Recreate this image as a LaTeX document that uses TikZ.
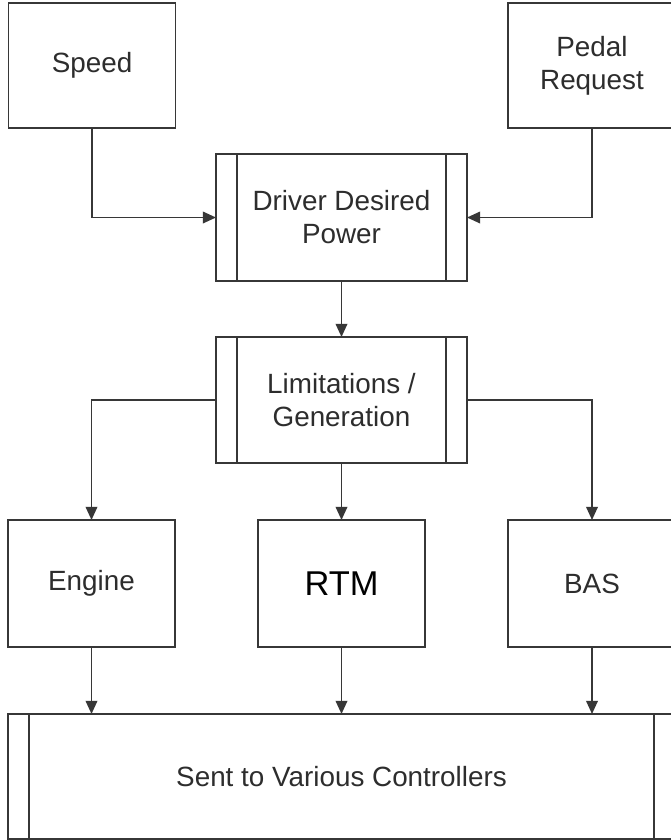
\documentclass[tikz,border=0pt]{standalone}
\usepackage{fontspec}
\setmainfont{Liberation Sans}
\usepackage{tikz}
\usetikzlibrary{arrows.meta,positioning}
\definecolor{lineg}{RGB}{55,55,55}
\definecolor{textg}{RGB}{45,45,45}
\newcommand{\barw}{0.52cm}

\begin{document}
\begin{tikzpicture}[>={Triangle[length=3.3mm,width=2.9mm]},
  box/.style={draw=lineg,line width=1.35pt,inner sep=0pt,outer sep=0pt,
    align=center,text=textg,font=\fontsize{19.8}{23.5}\selectfont,
    minimum width=4.175cm,minimum height=3.15cm},
  proc/.style={box,minimum width=6.275cm,
    path picture={\draw[lineg,line width=1.35pt]
      ([xshift=\barw]path picture bounding box.north west) -- ([xshift=\barw]path picture bounding box.south west)
      ([xshift=-\barw]path picture bounding box.north east) -- ([xshift=-\barw]path picture bounding box.south east);}},
  wire/.style={->,draw=lineg,line width=1.35pt}]
  \clip (0,0) rectangle (16.775,-21);
  \fill[white] (0,0) rectangle (16.775,-21);

  \node[box,minimum height=3.125cm] (spd) at (2.3,-1.6375) {Speed};
  \node[box,minimum width=4.2cm,minimum height=3.125cm] (pdl) at (14.8,-1.6375) {Pedal\\Request};
  \node[proc,minimum height=3.175cm] (drv) at (8.5375,-5.4375) {Driver Desired\\Power};
  \node[proc] (lim) at (8.5375,-10.0) {Limitations /\\Generation};
  \node[box,minimum height=3.175cm] (eng) at (2.2875,-14.5875) {Engine};
  \node[box,minimum height=3.175cm,text=black,font=\fontsize{24.5}{28}\selectfont] (rtm) at (8.5375,-14.5875) {RTM};
  \node[box,minimum width=4.2cm,minimum height=3.175cm] (bas) at (14.8,-14.5875) {BAS};
  \node[proc,minimum width=16.675cm,minimum height=3.125cm] (snd) at (8.5375,-19.4125) {Sent to Various Controllers};

  \draw[wire] (spd.south) |- (drv.west);
  \draw[wire] (pdl.south) |- (drv.east);
  \draw[wire] (drv) -- (lim);
  \draw[wire] (lim.west) -| (eng.north);
  \draw[wire] (lim) -- (rtm);
  \draw[wire] (lim.east) -| (bas.north);
  \draw[wire] (eng.south) -- (eng.south |- snd.north);
  \draw[wire] (rtm) -- (snd.north -| rtm.south);
  \draw[wire] (bas.south) -- (bas.south |- snd.north);
\end{tikzpicture}
\end{document}
